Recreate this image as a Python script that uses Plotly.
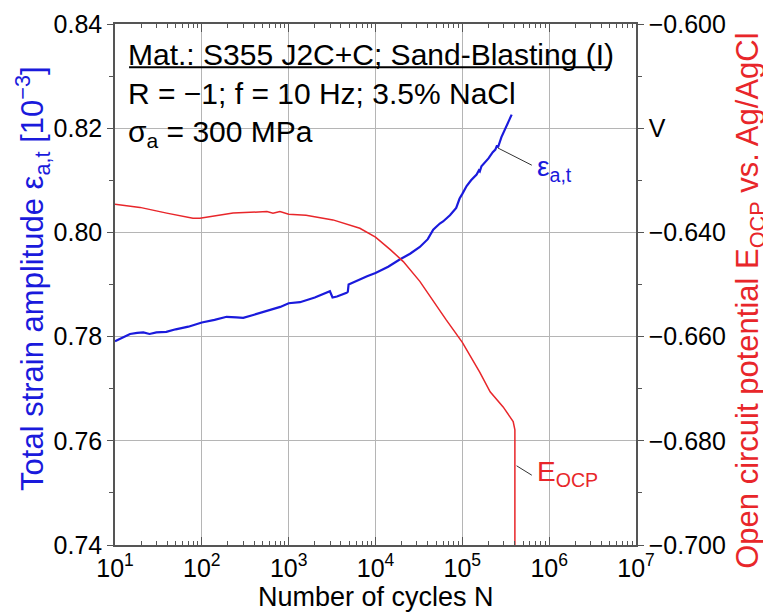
import plotly.graph_objects as go

# ---- data ----
strain_N = [10, 12.5, 14.9, 18, 21.2, 25, 30, 39, 50, 70, 100, 140, 193, 250, 300, 400, 557, 800,
            1000, 1350, 2000, 2985, 3200, 3600, 4650, 4800, 4900, 6000, 8000, 10000, 14000, 19000,
            25000, 32400, 40000, 46200, 55000, 60000, 72000, 85000, 93000, 100000, 112000, 126000,
            146000, 155000, 159000, 166000, 200000, 224000, 240000, 251000, 257000, 282000, 316000, 370000]
strain_eps = [0.7791, 0.7799, 0.7805, 0.7807, 0.7808, 0.7805, 0.7808, 0.7809, 0.7814, 0.7819, 0.7827,
              0.7832, 0.7838, 0.7837, 0.7836, 0.7842, 0.7849, 0.7857, 0.7864, 0.7866, 0.7875, 0.7887,
              0.7875, 0.7877, 0.7884, 0.7886, 0.7900, 0.7907, 0.7916, 0.7922, 0.7934, 0.7948, 0.7959,
              0.7972, 0.7987, 0.8005, 0.8017, 0.8021, 0.8033, 0.8047, 0.8065, 0.8074, 0.8089, 0.8100,
              0.8111, 0.8119, 0.8117, 0.8127, 0.8142, 0.8154, 0.8159, 0.8167, 0.8163, 0.8183, 0.8202, 0.8226]

ocp_N = [10, 19.4, 39.4, 79, 95, 229, 562, 660, 794, 1000, 1585, 3236, 6600, 10000, 14800, 20900,
         32400, 50100, 64600, 100000, 117500, 158500, 209000, 295000, 385000, 403000, 403000]
ocp_E = [-0.6346, -0.6352, -0.6363, -0.6373, -0.6373, -0.6363, -0.6360, -0.6363, -0.6360, -0.6365,
         -0.6367, -0.6376, -0.6392, -0.6409, -0.6433, -0.6456, -0.6494, -0.6541, -0.6567, -0.6611,
         -0.6631, -0.6668, -0.6706, -0.6735, -0.6763, -0.6779, -0.7050]

x_tickvals = [10, 100, 1000, 10000, 100000, 1000000, 10000000]
x_ticktext = ["10<sup>1</sup>", "10<sup>2</sup>", "10<sup>3</sup>", "10<sup>4</sup>",
              "10<sup>5</sup>", "10<sup>6</sup>", "10<sup>7</sup>"]
y2_tickvals = [-0.700, -0.680, -0.660, -0.640, -0.620, -0.600]
y2_ticktext = ["\u22120.700", "\u22120.680", "\u22120.660", "\u22120.640", "V", "\u22120.600"]

BLUE = "#1a1adc"
RED = "#e8262a"
FONT = "Liberation Sans, Arial, sans-serif"

fig = go.Figure()
fig.add_trace(go.Scatter(x=strain_N, y=strain_eps, mode="lines",
                         line=dict(color=BLUE, width=2.2), yaxis="y", showlegend=False))
fig.add_trace(go.Scatter(x=ocp_N, y=ocp_E, mode="lines",
                         line=dict(color=RED, width=1.5), yaxis="y2", showlegend=False))

axis_common = dict(showline=True, linecolor="#555", linewidth=1.5, automargin=False,
                   tickfont=dict(family=FONT, size=25, color="black"))

# the page body adds an 8px offset, so the figure is 8px smaller on each axis
fig.update_layout(
    width=763, height=607,
    margin=dict(l=107, r=135, t=16, b=70),
    paper_bgcolor="white", plot_bgcolor="white",
    font=dict(family=FONT, color="black"),
    xaxis=dict(type="log", range=[1, 7], tickmode="array", tickvals=x_tickvals, ticktext=x_ticktext,
               ticks="inside", ticklen=8, tickcolor="#555", mirror="ticks",
               showgrid=True, gridcolor="#b5b5b5", gridwidth=1,
               minor=dict(dtick="D1", ticks="inside", ticklen=4, tickcolor="#555", showgrid=False),
               **axis_common),
    yaxis=dict(range=[0.74, 0.84], tickmode="linear", tick0=0.74, dtick=0.02, tickformat=".2f",
               ticks="outside", ticklen=6, tickcolor="#555",
               showgrid=True, gridcolor="#b5b5b5", gridwidth=1, zeroline=False,
               minor=dict(dtick=0.01, ticks="outside", ticklen=4, tickcolor="#555", showgrid=False),
               **axis_common),
    yaxis2=dict(range=[-0.700, -0.600], overlaying="y", side="right", tickmode="array",
                tickvals=y2_tickvals, ticktext=y2_ticktext,
                ticks="outside", ticklen=6, tickcolor="#555", showgrid=False, zeroline=False,
                minor=dict(dtick=0.01, ticks="outside", ticklen=4, tickcolor="#555", showgrid=False),
                **axis_common),
)

# axis titles
fig.add_annotation(text="Number of cycles N", xref="paper", yref="paper", x=0.5, y=-0.068,
                   xanchor="center", yanchor="top", showarrow=False,
                   font=dict(family=FONT, size=27, color="black"))
fig.add_annotation(text="Total strain amplitude \u03b5<sub>a,t</sub> [10<sup>\u22123</sup>]",
                   xref="paper", yref="paper", x=-0.158, y=0.512, textangle=-90,
                   xanchor="center", yanchor="middle", showarrow=False,
                   font=dict(family=FONT, size=31, color=BLUE))
fig.add_annotation(text="Open circuit potential E<sub>OCP</sub> vs. Ag/AgCl",
                   xref="paper", yref="paper", x=1.22, y=0.468, textangle=-90,
                   xanchor="center", yanchor="middle", showarrow=False,
                   font=dict(family=FONT, size=31, color=RED))

# info text
fig.add_annotation(text="Mat.: S355 J2C+C; Sand-Blasting (I)", xref="paper", yref="paper",
                   x=0.021, y=0.977, xanchor="left", yanchor="top", showarrow=False,
                   font=dict(family=FONT, size=30, color="black"))
fig.add_annotation(text="R = \u22121; f = 10 Hz; 3.5% NaCl", xref="paper", yref="paper",
                   x=0.021, y=0.903, xanchor="left", yanchor="top", showarrow=False,
                   font=dict(family=FONT, size=30, color="black"))
fig.add_annotation(text="\u03c3<sub>a</sub> = 300 MPa", xref="paper", yref="paper",
                   x=0.021, y=0.829, xanchor="left", yanchor="top", showarrow=False,
                   font=dict(family=FONT, size=30, color="black"))
fig.add_shape(type="line", xref="paper", yref="paper", x0=0.027, x1=0.950, y0=0.917, y1=0.917,
              line=dict(color="black", width=2))

# curve labels with leader lines
fig.add_shape(type="line", xref="x", yref="y", x0=10**5.41, y0=0.8162, x1=10**5.80, y1=0.8129,
              line=dict(color="#333", width=1))
fig.add_annotation(text="\u03b5<sub>a,t</sub>", xref="x", yref="y", x=5.84, y=0.8122,
                   xanchor="left", yanchor="middle", showarrow=False,
                   font=dict(family=FONT, size=28, color=BLUE))
fig.add_shape(type="line", xref="x", yref="y2", x0=10**5.625, y0=-0.6848, x1=10**5.80, y1=-0.6866,
              line=dict(color="#333", width=1))
fig.add_annotation(text="E<sub>OCP</sub>", xref="x", yref="y2", x=5.84, y=-0.6862,
                   xanchor="left", yanchor="middle", showarrow=False,
                   font=dict(family=FONT, size=28, color=RED))

fig.write_html("out.html")
